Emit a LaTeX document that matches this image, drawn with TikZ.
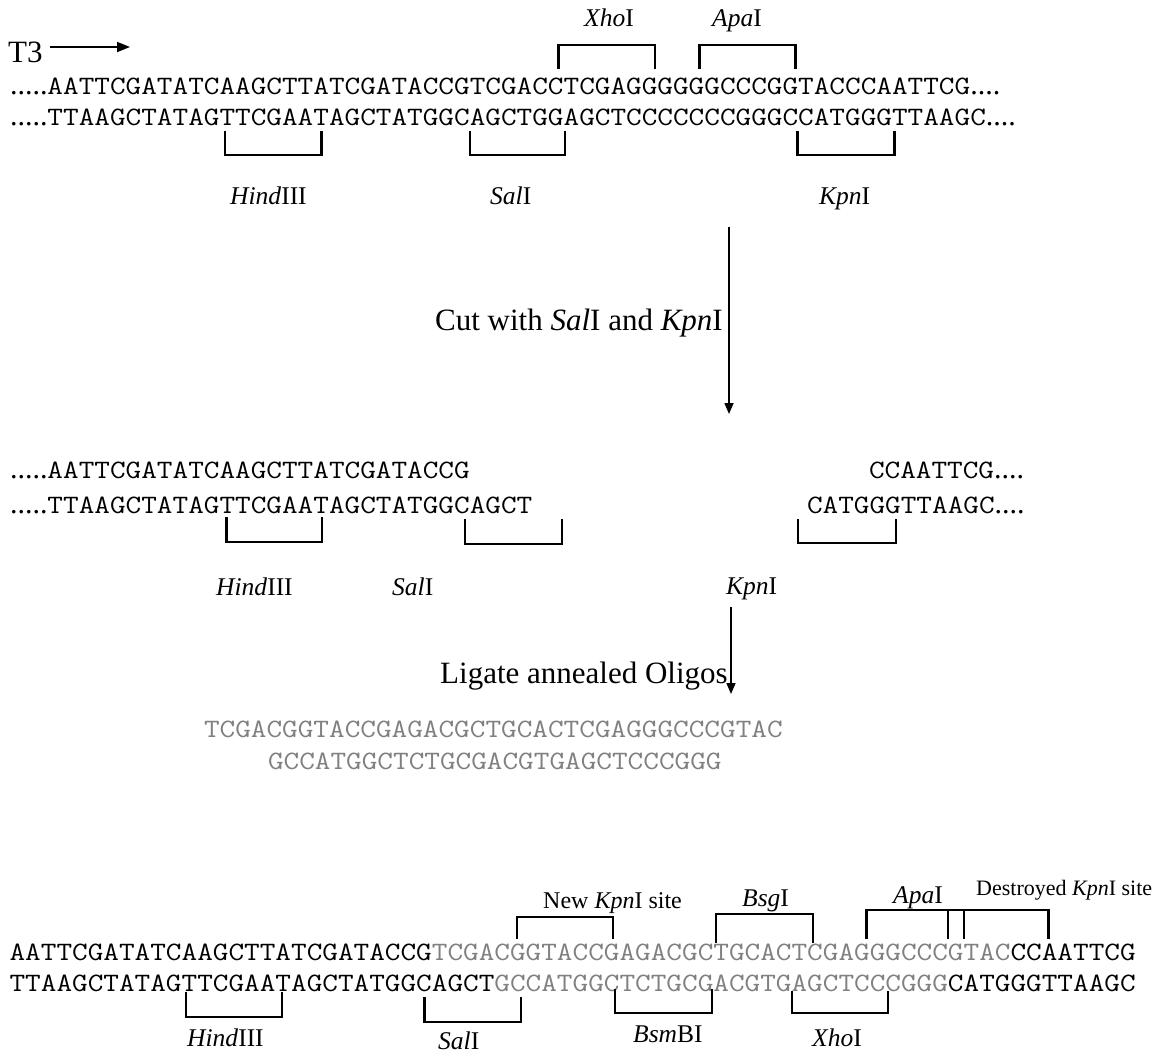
\documentclass[tikz,border=0pt]{standalone}
\usepackage{fontspec}
\setmainfont{Liberation Serif}
\usepackage{graphicx}
\usepackage{xcolor}
\usetikzlibrary{arrows.meta}
\definecolor{oligo}{gray}{0.5}
\newcommand{\sq}[1]{\scalebox{1.146}[1]{\fontsize{26.5}{30}\selectfont\ttfamily #1}}
\newcommand{\dt}[1]{{\fontsize{30}{36}\selectfont #1}}
\newcommand{\og}[1]{\textcolor{oligo}{#1}}
\newcommand{\brk}[4]{\draw[brkline] (#1,#4) -- (#1,#3) -- (#2,#3) -- (#2,#4);}
\tikzset{
  seqline/.style={anchor=base west, inner sep=0pt, outer sep=0pt},
  lab/.style={anchor=base west, inner sep=0pt, font=\fontsize{25.5}{30}\selectfont},
  biglab/.style={anchor=base west, inner sep=0pt, font=\fontsize{31}{36}\selectfont},
  brkline/.style={line width=2.8pt, line join=miter, line cap=rect},
  arr/.style={line width=1.5pt, -{Triangle[length=11pt,width=9pt]}},
}
\begin{document}
\begin{tikzpicture}[x=1pt,y=-1pt]
\useasboundingbox[fill=white] (0,0) rectangle (1171,1055);

% ---------- top section ----------
\node[biglab] (t3) at (8,62) {T3};
\coordinate (t3s) at (50,47);
\coordinate (t3e) at (130,47);
\draw[line width=1.8pt, -{Triangle[length=13pt,width=10pt]}] (t3s) -- (t3e);

\node[seqline] (topA) at (10,94) {\dt{.....}\sq{AATTCGATATCAAGCTTATCGATACCGTCGACCTCGAGGGGGGCCCGGTACCCAATTCG}\dt{....}};
\node[seqline] (topB) at (10,125) {\dt{.....}\sq{TTAAGCTATAGTTCGAATAGCTATGGCAGCTGGAGCTCCCCCCCGGGCCATGGGTTAAGC}\dt{....}};

\brk{558.7}{655}{45}{68}
\brk{699.7}{795.5}{45}{68}
\node[lab] (xho1) at (584,26) {\textit{Xho}I};
\node[lab] (apa1) at (712,26) {\textit{Apa}I};

\brk{225}{321.5}{155}{132}
\brk{470}{565}{155}{132}
\brk{797.5}{894.5}{155}{132}
\node[lab] (hind1) at (230,204) {\textit{Hind}III};
\node[lab] (sal1) at (490,204) {\textit{Sal}I};
\node[lab] (kpn1) at (819,204) {\textit{Kpn}I};

% cut arrow
\coordinate (c1s) at (729,227);
\coordinate (c1e) at (729,414);
\draw[arr] (c1s) -- (c1e);
\node[biglab] (cut) at (435,330) {Cut with \textit{Sal}I and \textit{Kpn}I};

% ---------- middle section ----------
\node[seqline] (midA) at (10,478) {\dt{.....}\sq{AATTCGATATCAAGCTTATCGATACCG}};
\node[seqline] (midB) at (10,513) {\dt{.....}\sq{TTAAGCTATAGTTCGAATAGCTATGGCAGCT}};
\node[seqline] (midC) at (869,478) {\sq{CCAATTCG}\dt{....}};
\node[seqline] (midD) at (807,513) {\sq{CATGGGTTAAGC}\dt{....}};

\brk{226.5}{322}{542}{518}
\brk{465}{562}{544}{520}
\brk{798}{896}{543}{520}
\node[lab] (hind2) at (216,595) {\textit{Hind}III};
\node[lab] (sal2) at (392,595) {\textit{Sal}I};
\node[lab] (kpn2) at (726,594) {\textit{Kpn}I};

% ligate arrow
\coordinate (c2s) at (731,607);
\coordinate (c2e) at (731,694);
\draw[arr] (c2s) -- (c2e);
\node[biglab] (lig) at (440,683) {Ligate annealed Oligos};

% oligos
\node[seqline] (olA) at (204,737) {\sq{\og{TCGACGGTACCGAGACGCTGCACTCGAGGGCCCGTAC}}};
\node[seqline] (olB) at (268,769) {\sq{\og{GCCATGGCTCTGCGACGTGAGCTCCCGGG}}};

% ---------- bottom section ----------
\node[seqline] (botA) at (9.6,960) {\sq{AATTCGATATCAAGCTTATCGATACCG\og{TCGACGGTACCGAGACGCTGCACTCGAGGGCCCGTAC}CCAATTCG}};
\node[seqline] (botB) at (9.6,991) {\sq{TTAAGCTATAGTTCGAATAGCTATGGCAGCT\og{GCCATGGCTCTGCGACGTGAGCTCCCGGG}CATGGGTTAAGC}};

% upper brackets
\brk{517}{613}{917}{938}
\brk{716}{813}{914}{942}
\draw[brkline] (866.7,938) -- (866.7,910) -- (964,910);
\draw[brkline] (948,910) -- (948,938);
\brk{964}{1048.6}{910}{938}
\node[lab, font=\fontsize{24}{29}\selectfont] (newk) at (543,908) {New \textit{Kpn}I site};
\node[lab] (bsg) at (742,906) {\textit{Bsg}I};
\node[lab] (apa3) at (893,903) {\textit{Apa}I};
\node[lab, font=\fontsize{22}{26}\selectfont] (dest) at (976,895) {Destroyed \textit{Kpn}I site};

% lower brackets
\brk{186}{282}{1017}{993}
\brk{424.6}{521}{1022}{998}
\brk{615}{712}{1013}{990}
\brk{792}{888}{1013}{992}
\node[lab] (hind3) at (187,1046) {\textit{Hind}III};
\node[lab] (sal3) at (438,1049) {\textit{Sal}I};
\node[lab] (bsm) at (633,1042) {\textit{Bsm}BI};
\node[lab] (xho3) at (812,1046) {\textit{Xho}I};
\end{tikzpicture}
\end{document}
